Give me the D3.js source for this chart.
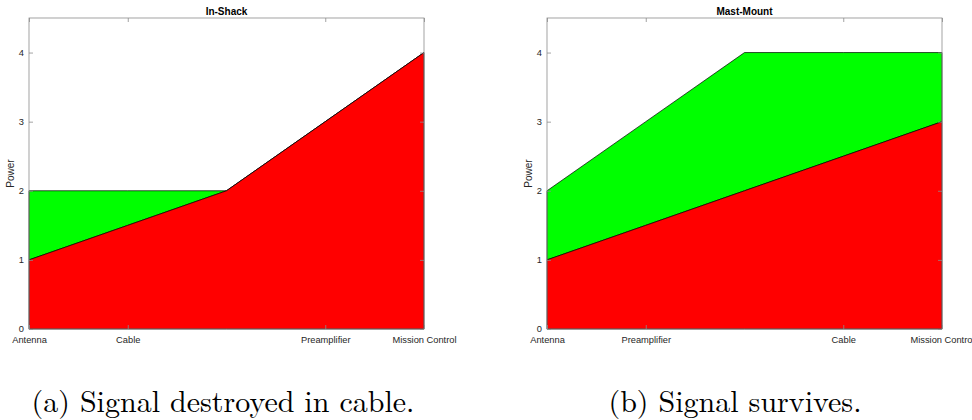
<!DOCTYPE html>
<html lang="en">
<head>
	<meta charset="utf-8">
	<title>Signal power</title>
	<script src="https://d3js.org/d3.v7.min.js"></script>
	<style>
		body {
			margin: 0;
			background: #fff;
		}
		svg text {
			font-family: "Liberation Sans", Helvetica, Arial, sans-serif;
		}
		svg text.caption {
			font-family: "Latin Modern Roman", "Liberation Serif", "DejaVu Serif", serif;
		}
	</style>
</head>
<body>
	<script>
		// positions along the chain, 0..4
		var steps = [0, 1, 2, 3, 4];
		var yTicks = [0, 1, 2, 3, 4];

		// In-Shack
		var shackTickPos = [0, 1, 3, 4];
		var shackLabels = ["Antenna", "Cable", "Preamplifier", "Mission Control"];
		var shackRed = [1, 1.5, 2, 3, 4];
		var shackTop = [2, 2, 2, 3, 4];

		// Mast-Mount
		var mastTickPos = [0, 1, 3, 4];
		var mastLabels = ["Antenna", "Preamplifier", "Cable", "Mission Control"];
		var mastRed = [1, 1.5, 2, 2.5, 3];
		var mastTop = [2, 3, 4, 4, 4];

		var panels = [
			{ title: "In-Shack", left: 29, ticks: shackTickPos, labels: shackLabels, red: shackRed, top: shackTop, caption: "(a) Signal destroyed in cable.", capX: 223 },
			{ title: "Mast-Mount", left: 547, ticks: mastTickPos, labels: mastLabels, red: mastRed, top: mastTop, caption: "(b) Signal survives.", capX: 735 }
		];

		var W = 972, H = 420;
		var pw = 395, plotTop = 18, plotBottom = 329;

		var svg = d3.select("body").append("svg")
			.attr("width", W)
			.attr("height", H);

		panels.forEach(function (p) {
			var x = d3.scaleLinear().domain([0, 4]).range([p.left, p.left + pw]);
			var y = d3.scaleLinear().domain([0, 4.5]).range([plotBottom, plotTop]);
			var g = svg.append("g");

			var pts = steps.map(function (s, i) {
				return { s: s, red: p.red[i], top: p.top[i] };
			});

			// green band between red level and the top level
			g.append("path")
				.datum(pts)
				.attr("fill", "#00ff00")
				.attr("stroke", "#000")
				.attr("stroke-width", 0.7)
				.attr("d", d3.area()
					.x(function (d) { return x(d.s); })
					.y0(function (d) { return y(d.red); })
					.y1(function (d) { return y(d.top); }));

			g.append("path")
				.datum(pts)
				.attr("fill", "#ff0000")
				.attr("stroke", "#000")
				.attr("stroke-width", 0.7)
				.attr("d", d3.area()
					.x(function (d) { return x(d.s); })
					.y0(y(0))
					.y1(function (d) { return y(d.red); }));

			// frame
			g.append("rect")
				.attr("x", p.left)
				.attr("y", plotTop)
				.attr("width", pw)
				.attr("height", plotBottom - plotTop)
				.attr("fill", "none")
				.attr("stroke", "#8c8c8c")
				.attr("stroke-width", 0.8);

			// axes, ticks inward
			var xAxis = d3.axisBottom(x).tickValues(p.ticks)
				.tickFormat(function (d, i) { return p.labels[i]; })
				.tickSizeInner(-4).tickSizeOuter(0).tickPadding(7);
			var gx = g.append("g")
				.attr("transform", "translate(0," + plotBottom + ")")
				.call(xAxis);

			var xTop = d3.axisTop(x).tickValues(p.ticks)
				.tickFormat("").tickSizeInner(-4).tickSizeOuter(0);
			var gxt = g.append("g")
				.attr("transform", "translate(0," + plotTop + ")")
				.call(xTop);

			var yAxis = d3.axisLeft(y).tickValues(yTicks)
				.tickFormat(d3.format("d"))
				.tickSizeInner(-4).tickSizeOuter(0).tickPadding(5);
			var gy = g.append("g")
				.attr("transform", "translate(" + p.left + ",0)")
				.call(yAxis);

			var yRight = d3.axisRight(y).tickValues(yTicks)
				.tickFormat("").tickSizeInner(-4).tickSizeOuter(0);
			var gyr = g.append("g")
				.attr("transform", "translate(" + (p.left + pw) + ",0)")
				.call(yRight);

			[gx, gxt, gy, gyr].forEach(function (a) {
				a.select(".domain").remove();
				a.selectAll(".tick line").attr("stroke", "#8c8c8c").attr("stroke-width", 0.8);
				a.selectAll(".tick text")
					.attr("fill", "#262626")
					.style("font-size", "9.3px");
			});

			// title
			g.append("text")
				.attr("x", p.left + pw / 2)
				.attr("y", 15)
				.attr("text-anchor", "middle")
				.style("font-size", "10px")
				.style("font-weight", "bold")
				.attr("fill", "#000")
				.text(p.title);

			// y label
			g.append("text")
				.attr("text-anchor", "middle")
				.attr("transform", "translate(" + (p.left - 15) + "," + ((plotTop + plotBottom) / 2) + ")rotate(-90)")
				.style("font-size", "10px")
				.attr("fill", "#262626")
				.text("Power");

			// caption under the panel
			g.append("text")
				.attr("class", "caption")
				.attr("x", p.capX)
				.attr("y", 412)
				.attr("text-anchor", "middle")
				.style("font-size", "30px")
				.attr("fill", "#000")
				.text(p.caption);
		});
	</script>
</body>
</html>
